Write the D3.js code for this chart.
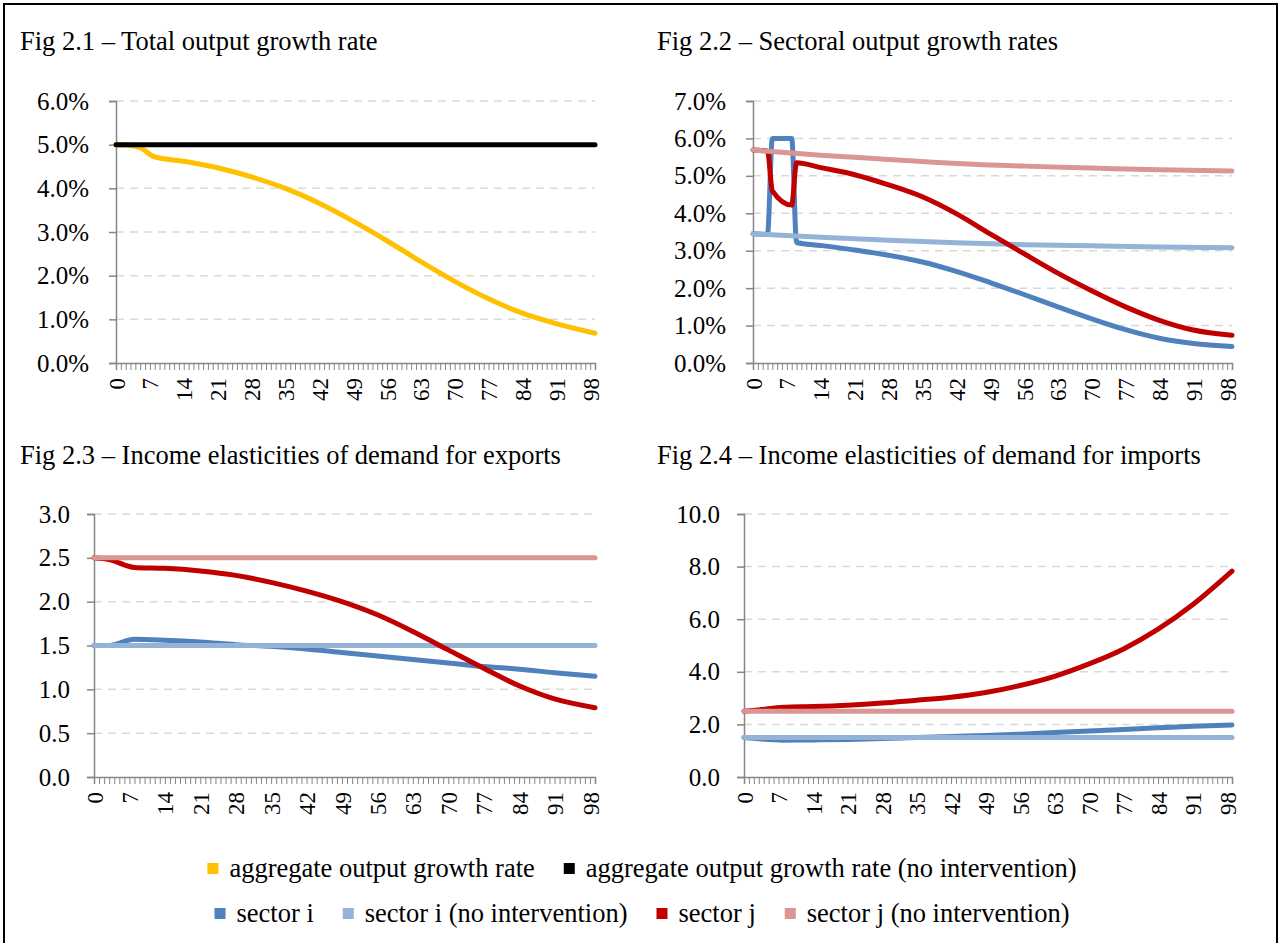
<!DOCTYPE html>
<html>
<head>
<meta charset="utf-8">
<script src="https://cdn.jsdelivr.net/npm/d3@7/dist/d3.min.js"></script>
<style>
  body { margin: 0; background: #fff; }
  svg text { font-family: "Liberation Serif", "Times New Roman", serif; fill: #000; }
</style>
</head>
<body>
<div class="chart"></div>
<script>
// categories on the x axis (periods 0..99), labelled every 7th
var periods = d3.range(0, 100);
var periodLabels = [0, 7, 14, 21, 28, 35, 42, 49, 56, 63, 70, 77, 84, 91, 98];

// Fig 2.1 (percent)
var aggGrowth = [[0,5.0],[3,4.98],[5,4.93],[8,4.72],[14,4.62],[21,4.47],[28,4.26],[35,4.0],[42,3.66],[49,3.25],[56,2.8],[63,2.32],[70,1.87],[77,1.47],[84,1.14],[91,0.9],[99,0.68]];
var aggGrowthNoInt = [[0,5.0],[99,5.0]];

// Fig 2.2 (percent)
var secIGrowth = [[0,3.45],[3,3.44],[4,6.0],[8,6.0],[9,3.22],[14,3.14],[21,3.02],[28,2.88],[35,2.70],[42,2.45],[49,2.15],[56,1.83],[63,1.50],[70,1.18],[77,0.89],[84,0.66],[91,0.52],[99,0.44]];
var secIGrowthNoInt = [[0,3.45],[14,3.36],[28,3.28],[42,3.21],[56,3.16],[70,3.13],[84,3.10],[99,3.08]];
var secJGrowth = [[0,5.69],[3,5.66],[4,4.6],[8,4.22],[9,5.35],[14,5.22],[21,5.03],[28,4.76],[35,4.44],[42,3.99],[49,3.45],[56,2.92],[63,2.40],[70,1.93],[77,1.50],[84,1.14],[91,0.88],[99,0.74]];
var secJGrowthNoInt = [[0,5.69],[14,5.55],[28,5.44],[42,5.33],[56,5.26],[70,5.21],[84,5.16],[99,5.13]];

// Fig 2.3
var secIExport = [[0,1.5],[3,1.5],[8,1.57],[14,1.56],[21,1.54],[28,1.51],[35,1.49],[42,1.46],[49,1.42],[56,1.38],[63,1.34],[70,1.30],[77,1.26],[84,1.23],[91,1.19],[99,1.15]];
var secIExportNoInt = [[0,1.5],[99,1.5]];
var secJExport = [[0,2.5],[3,2.48],[8,2.39],[14,2.38],[21,2.35],[28,2.30],[35,2.22],[42,2.12],[49,2.00],[56,1.85],[63,1.66],[70,1.45],[77,1.24],[84,1.04],[91,0.89],[99,0.79]];
var secJExportNoInt = [[0,2.5],[99,2.5]];

// Fig 2.4
var secIImport = [[0,1.5],[3,1.45],[8,1.40],[14,1.41],[21,1.43],[28,1.46],[35,1.50],[42,1.54],[49,1.58],[56,1.63],[63,1.69],[70,1.75],[77,1.81],[84,1.87],[91,1.93],[99,1.98]];
var secIImportNoInt = [[0,1.5],[99,1.5]];
var secJImport = [[0,2.5],[3,2.55],[8,2.65],[14,2.68],[21,2.73],[28,2.81],[35,2.92],[42,3.03],[49,3.21],[56,3.48],[63,3.83],[70,4.30],[77,4.87],[84,5.62],[91,6.55],[99,7.83]];
var secJImportNoInt = [[0,2.5],[99,2.5]];

var colors = {
  agg: "#FFC000", aggNo: "#000000",
  secI: "#4F81BD", secINo: "#95B3D7",
  secJ: "#C00000", secJNo: "#D99694"
};

var panels = [
  { title: "Fig 2.1 \u2013 Total output growth rate", tx: 20, ty: 50,
    left: 116, right: 595, top: 101, bottom: 363, max: 6, step: 1, pad: 20,
    fmt: d => d.toFixed(1) + "%",
    series: [[aggGrowth, colors.agg], [aggGrowthNoInt, colors.aggNo]] },
  { title: "Fig 2.2 \u2013 Sectoral output growth rates", tx: 657, ty: 50,
    left: 753, right: 1232, top: 101, bottom: 363, max: 7, step: 1, pad: 20,
    fmt: d => d.toFixed(1) + "%",
    series: [[secIGrowth, colors.secI], [secIGrowthNoInt, colors.secINo], [secJGrowth, colors.secJ], [secJGrowthNoInt, colors.secJNo]] },
  { title: "Fig 2.3 \u2013 Income elasticities of demand for exports", tx: 20, ty: 464,
    left: 94, right: 595, top: 514, bottom: 777, max: 3, step: 0.5, pad: 17,
    fmt: d => d.toFixed(1),
    series: [[secIExport, colors.secI], [secIExportNoInt, colors.secINo], [secJExport, colors.secJ], [secJExportNoInt, colors.secJNo]] },
  { title: "Fig 2.4 \u2013 Income elasticities of demand for imports", tx: 657, ty: 464,
    left: 744, right: 1232, top: 514, bottom: 777, max: 10, step: 2, pad: 17,
    fmt: d => d.toFixed(1),
    series: [[secIImport, colors.secI], [secIImportNoInt, colors.secINo], [secJImport, colors.secJ], [secJImportNoInt, colors.secJNo]] }
];

var svg = d3.select(".chart").append("svg")
    .attr("width", 1279)
    .attr("height", 943);

svg.append("rect")
    .attr("x", 4).attr("y", 4)
    .attr("width", 1273).attr("height", 945)
    .attr("fill", "none")
    .attr("stroke", "#000")
    .attr("stroke-width", 2);

panels.forEach(function(p) {
  var x = d3.scaleLinear().domain([0, 99]).range([p.left, p.right]);
  var y = d3.scaleLinear().domain([0, p.max]).range([p.bottom, p.top]);
  var yTicks = d3.range(0, p.max + p.step / 2, p.step);

  svg.append("text")
      .attr("x", p.tx).attr("y", p.ty)
      .style("font-size", "26.5px")
      .text(p.title);

  // dashed gridlines
  svg.append("g").selectAll("line")
      .data(yTicks.filter(d => d > 0))
      .enter().append("line")
      .attr("x1", p.left).attr("x2", p.right)
      .attr("y1", d => y(d)).attr("y2", d => y(d))
      .attr("stroke", "#D9D9D9")
      .attr("stroke-width", 1.5)
      .attr("stroke-dasharray", "8,6");

  var yAxis = d3.axisLeft(y)
      .tickValues(yTicks)
      .tickSize(7)
      .tickPadding(p.pad)
      .tickFormat(p.fmt);

  var gy = svg.append("g")
      .attr("transform", "translate(" + p.left + ",0)")
      .call(yAxis);
  gy.select(".domain").attr("stroke", "#868686").attr("stroke-width", 1.5);
  gy.selectAll(".tick line").attr("stroke", "#868686").attr("stroke-width", 1.5);
  gy.selectAll("text").style("font-size", "25px").attr("fill", "#000");

  var xAxis = d3.axisBottom(x)
      .tickValues(periods)
      .tickSize(7)
      .tickFormat(d => periodLabels.indexOf(d) >= 0 ? d : "");

  var gx = svg.append("g")
      .attr("transform", "translate(0," + p.bottom + ")")
      .call(xAxis);
  gx.select(".domain").attr("stroke", "#868686").attr("stroke-width", 1.5);
  gx.selectAll(".tick line").attr("stroke", "#868686").attr("stroke-width", 1);
  gx.selectAll("text")
      .style("font-size", "23px")
      .attr("fill", "#000")
      .attr("text-anchor", "end")
      .attr("transform", "rotate(-90)")
      .attr("x", -15)
      .attr("y", 0)
      .attr("dy", "0.35em");

  var line = d3.line()
      .x(d => x(d[0]))
      .y(d => y(d[1]))
      .curve(d3.curveMonotoneX);

  p.series.forEach(function(s) {
    svg.append("path")
        .datum(s[0])
        .attr("d", line)
        .attr("fill", "none")
        .attr("stroke", s[1])
        .attr("stroke-width", 5)
        .attr("stroke-linecap", "round")
        .attr("stroke-linejoin", "round");
  });
});

// legend, two centred rows
var legendRows = [
  { y: 868, items: [["aggregate output growth rate", colors.agg], ["aggregate output growth rate (no intervention)", colors.aggNo]] },
  { y: 913, items: [["sector i", colors.secI], ["sector i (no intervention)", colors.secINo], ["sector j", colors.secJ], ["sector j (no intervention)", colors.secJNo]] }
];

legendRows.forEach(function(row) {
  var g = svg.append("g");
  var cursor = 0;
  row.items.forEach(function(it, i) {
    if (i > 0) cursor += 29;
    g.append("rect")
        .attr("x", cursor).attr("y", row.y - 5)
        .attr("width", 11).attr("height", 11)
        .attr("fill", it[1]);
    var t = g.append("text")
        .attr("x", cursor + 22).attr("y", row.y)
        .attr("dy", "0.35em")
        .style("font-size", "26.5px")
        .text(it[0]);
    cursor += 22 + t.node().getComputedTextLength();
  });
  g.attr("transform", "translate(" + (642 - cursor / 2) + ",0)");
});
</script>
</body>
</html>
